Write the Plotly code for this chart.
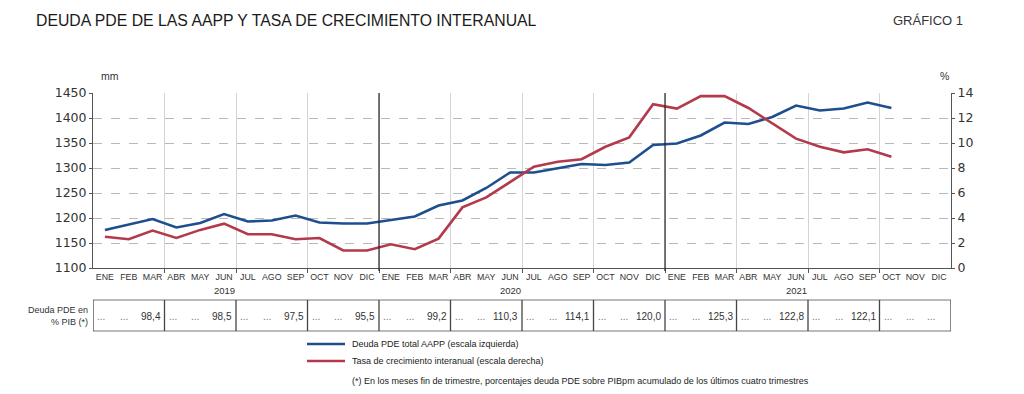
import plotly.graph_objects as go

# ---------------- data ----------------
months = ["ENE", "FEB", "MAR", "ABR", "MAY", "JUN", "JUL", "AGO", "SEP", "OCT", "NOV", "DIC"] * 3
years = ["2019", "2020", "2021"]

deuda_mm = [1176, 1187, 1198, 1181, 1190, 1208, 1193, 1195, 1205, 1191, 1189, 1189,
            1196, 1203, 1225, 1235, 1260, 1291, 1291, 1299, 1308, 1306, 1311, 1346,
            1349, 1365, 1391, 1388, 1402, 1425, 1415, 1419, 1431, 1420, None, None]

tasa_pct = [2.5, 2.3, 3.0, 2.4, 3.05, 3.55, 2.7, 2.7, 2.3, 2.4, 1.4, 1.4,
            1.9, 1.5, 2.35, 4.85, 5.65, 6.85, 8.1, 8.5, 8.7, 9.7, 10.45, 13.1,
            12.75, 13.75, 13.75, 12.8, 11.6, 10.35, 9.7, 9.25, 9.5, 8.9, None, None]

pib_pct = ["98,4", "98,5", "97,5", "95,5", "99,2", "110,3",
           "114,1", "120,0", "125,3", "122,8", "122,1", None]

name_deuda = "Deuda PDE total AAPP (escala izquierda)"
name_tasa = "Tasa de crecimiento interanual (escala derecha)"
footnote = "(*) En los meses fin de trimestre, porcentajes deuda PDE sobre PIBpm acumulado de los últimos cuatro trimestres"
title = "DEUDA PDE DE LAS AAPP Y TASA DE CRECIMIENTO INTERANUAL"
chart_no = "GRÁFICO 1"

# ---------------- style ----------------
BLUE = "#1d4f8f"
RED = "#b23a4c"
TXT = "#333333"
NARROW = "Liberation Sans Narrow, Arial Narrow, Liberation Sans, Arial, sans-serif"
SANS = "Liberation Sans, Arial, sans-serif"

# page body has an 8px margin; figure placed so the plot area lands at x 93-951, y 93-268
OFF = 8
W, H = 1024 - OFF, 394 - OFF
L, R, T, B = 93 - OFF, 73, 93 - OFF, 126
PW, PH = W - L - R, H - T - B


def px_x(p):
    return (p - OFF - L) / PW


def px_y(p):
    return (H - B - (p - OFF)) / PH


n = len(months)
x = list(range(n))

fig = go.Figure()
fig.add_trace(go.Scatter(x=x, y=deuda_mm, mode="lines", name=name_deuda,
                         line=dict(color=BLUE, width=2.6), yaxis="y", showlegend=False))
fig.add_trace(go.Scatter(x=x, y=tasa_pct, mode="lines", name=name_tasa,
                         line=dict(color=RED, width=2.6), yaxis="y2", showlegend=False))

quarter_bounds = [q * 3 - 0.5 for q in range(1, n // 3)]
year_bounds = [y * 12 - 0.5 for y in range(1, len(years))]

shapes = []
annotations = []

# year separators
for xb in year_bounds:
    shapes.append(dict(type="line", xref="x", yref="paper", x0=xb, x1=xb,
                       y0=px_y(271), y1=1, line=dict(color="#222222", width=1.2), layer="above"))

# year labels (under JUN)
for i, yr in enumerate(years):
    annotations.append(dict(x=i * 12 + 5, y=px_y(290), xref="x", yref="paper", text=yr,
                            showarrow=False, font=dict(family=NARROW, size=9.5, color=TXT),
                            xanchor="center", yanchor="middle"))

# table
tb_top, tb_bot = px_y(300), px_y(331)
shapes.append(dict(type="line", xref="x", yref="paper", x0=-0.5, x1=n - 0.5, y0=tb_top, y1=tb_top,
                   line=dict(color="#777777", width=1)))
shapes.append(dict(type="line", xref="x", yref="paper", x0=-0.5, x1=n - 0.5, y0=tb_bot, y1=tb_bot,
                   line=dict(color="#777777", width=1)))
for xb in [-0.5] + quarter_bounds + [n - 0.5]:
    shapes.append(dict(type="line", xref="x", yref="paper", x0=xb, x1=xb, y0=tb_top, y1=tb_bot,
                       line=dict(color="#444444", width=1.3)))

ty = px_y(316)
cell_font = dict(family=NARROW, size=10, color=TXT)
dot_font = dict(family=NARROW, size=10, color="#777777")
for q, val in enumerate(pib_pct):
    x0 = q * 3 - 0.5
    annotations.append(dict(x=x0, y=ty, xref="x", yref="paper", text="...", showarrow=False,
                            font=dot_font, xanchor="left", xshift=2, yanchor="middle"))
    annotations.append(dict(x=q * 3 + 0.8, y=ty, xref="x", yref="paper", text="...", showarrow=False,
                            font=dot_font, xanchor="center", yanchor="middle"))
    if val is None:
        annotations.append(dict(x=q * 3 + 2.5, y=ty, xref="x", yref="paper", text="...", showarrow=False,
                                font=dot_font, xanchor="right", xshift=-14, yanchor="middle"))
    else:
        annotations.append(dict(x=q * 3 + 2.5, y=ty, xref="x", yref="paper", text=val, showarrow=False,
                                font=cell_font, xanchor="right", xshift=-2, yanchor="middle"))

annotations.append(dict(x=px_x(90), y=px_y(315.5), xref="paper", yref="paper",
                        text="Deuda PDE en<br>% PIB (*)", showarrow=False, align="right",
                        font=dict(family=NARROW, size=9, color=TXT), xanchor="right", yanchor="middle"))

# legend (drawn)
for yy, col, txt in [(344, BLUE, name_deuda), (361, RED, name_tasa)]:
    shapes.append(dict(type="line", xref="paper", yref="paper", x0=px_x(307), x1=px_x(345),
                       y0=px_y(yy), y1=px_y(yy), line=dict(color=col, width=2.6)))
    annotations.append(dict(x=px_x(350), y=px_y(yy), xref="paper", yref="paper", text=txt,
                            showarrow=False, font=dict(family=NARROW, size=9, color="#222222"),
                            xanchor="left", yanchor="middle"))
annotations.append(dict(x=px_x(350), y=px_y(381), xref="paper", yref="paper", text=footnote,
                        showarrow=False, font=dict(family=NARROW, size=9, color="#222222"),
                        xanchor="left", yanchor="middle"))

# titles / units
annotations.append(dict(x=px_x(34), y=px_y(20), xref="paper", yref="paper", text=title,
                        showarrow=False, font=dict(family=SANS, size=15.8, color="#1a1a1a"),
                        xanchor="left", yanchor="middle"))
annotations.append(dict(x=px_x(965), y=px_y(20), xref="paper", yref="paper", text=chart_no,
                        showarrow=False, font=dict(family=SANS, size=13, color="#333333"),
                        xanchor="right", yanchor="middle"))
annotations.append(dict(x=px_x(99), y=px_y(76), xref="paper", yref="paper", text="mm",
                        showarrow=False, font=dict(family=SANS, size=10.5, color=TXT),
                        xanchor="left", yanchor="middle"))
annotations.append(dict(x=px_x(951), y=px_y(76), xref="paper", yref="paper", text="%",
                        showarrow=False, font=dict(family=SANS, size=10.5, color=TXT),
                        xanchor="right", yanchor="middle"))

fig.update_layout(
    width=W, height=H,
    margin=dict(l=L, r=R, t=T, b=B),
    paper_bgcolor="white", plot_bgcolor="white",
    showlegend=False,
    xaxis=dict(range=[-0.5, n - 0.5], tickmode="array", tickvals=x, ticktext=months,
               ticks="", showgrid=False, zeroline=False, showline=True,
               linecolor="#555555", linewidth=1,
               tickfont=dict(family=NARROW, size=8.8, color=TXT),
               minor=dict(tickmode="array", tickvals=quarter_bounds, ticks="outside",
                          ticklen=4, tickcolor="#555555", showgrid=True,
                          gridcolor="#d4d4d4", gridwidth=1)),
    yaxis=dict(range=[1100, 1450], tick0=1100, dtick=50, showgrid=True,
               gridcolor="#b8b8b8", griddash="dash", gridwidth=1, zeroline=False,
               showline=True, linecolor="#555555", linewidth=1, ticks="outside", ticklen=3,
               tickcolor="#555555", tickfont=dict(family="DejaVu Sans, sans-serif", size=12.5, color=TXT)),
    yaxis2=dict(range=[0, 14], tick0=0, dtick=2, overlaying="y", side="right", showgrid=False,
                zeroline=False, showline=True, linecolor="#555555", linewidth=1, ticks="outside",
                ticklen=3, tickcolor="#555555",
                tickfont=dict(family="DejaVu Sans, sans-serif", size=12.5, color=TXT)),
    shapes=shapes,
    annotations=annotations,
)

fig.write_html("out.html")
